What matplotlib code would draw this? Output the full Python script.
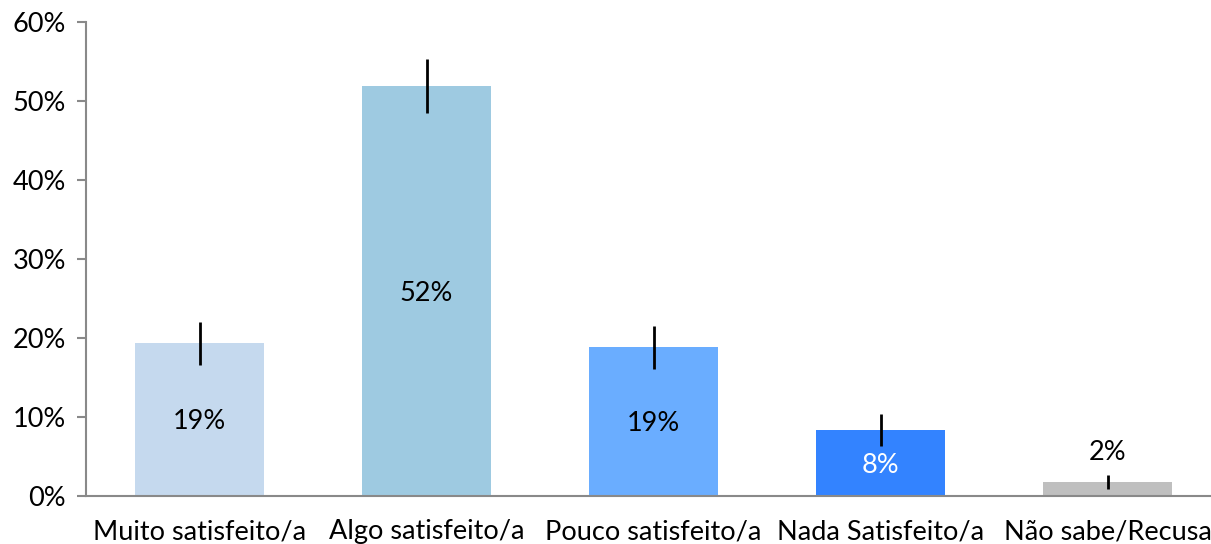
import matplotlib
matplotlib.use("Agg")
import matplotlib.pyplot as plt
from matplotlib.ticker import FuncFormatter

categories = ["Muito satisfeito/a", "Algo satisfeito/a", "Pouco satisfeito/a", "Nada Satisfeito/a", "Não sabe/Recusa"]
values = [19.3, 51.9, 18.8, 8.3, 1.7]
errors = [2.7, 3.4, 2.7, 2.0, 0.9]
labels = ["19%", "52%", "19%", "8%", "2%"]
colors = ["#c5d9ee", "#9ecae1", "#6aadff", "#3383ff", "#bfbfbf"]
label_colors = ["#000000", "#000000", "#000000", "#ffffff", "#000000"]

plt.rcParams['font.family'] = ['Lato', 'DejaVu Sans']

fig = plt.figure(figsize=(12.11, 5.44), dpi=100)
ax = fig.add_axes([86/1211, (544-495.5)/544, 1135/1211, (495.5-22.3)/544])

x = list(range(len(categories)))
ax.bar(x, values, width=0.57, color=colors, zorder=2)
ax.errorbar(x, values, yerr=errors, fmt='none', ecolor='black', elinewidth=2.0, capsize=0, zorder=3)

for i, (v, lab, c) in enumerate(zip(values, labels, label_colors)):
    if v < 5:
        ax.text(i, v + errors[i] + 3.2, lab, ha='center', va='center_baseline', fontsize=19.5, color=c)
    else:
        ax.text(i, v / 2, lab, ha='center', va='center_baseline', fontsize=19.5, color=c)

ax.set_xlim(-0.5, 4.5)
ax.set_ylim(0, 60)
ax.set_yticks([0, 10, 20, 30, 40, 50, 60])
ax.yaxis.set_major_formatter(FuncFormatter(lambda v, p: f"{int(v)}%"))
ax.set_xticks(x)
ax.set_xticklabels(categories, fontsize=19.5)
ax.tick_params(axis='y', labelsize=19.5, length=6.5, width=1.5, color='#898989', pad=8)
ax.tick_params(axis='x', length=0, pad=17)

for s in ['top', 'right']:
    ax.spines[s].set_visible(False)
for s in ['left', 'bottom']:
    ax.spines[s].set_color('#898989')
    ax.spines[s].set_linewidth(1.5)

fig.savefig("out.png", dpi=100)
